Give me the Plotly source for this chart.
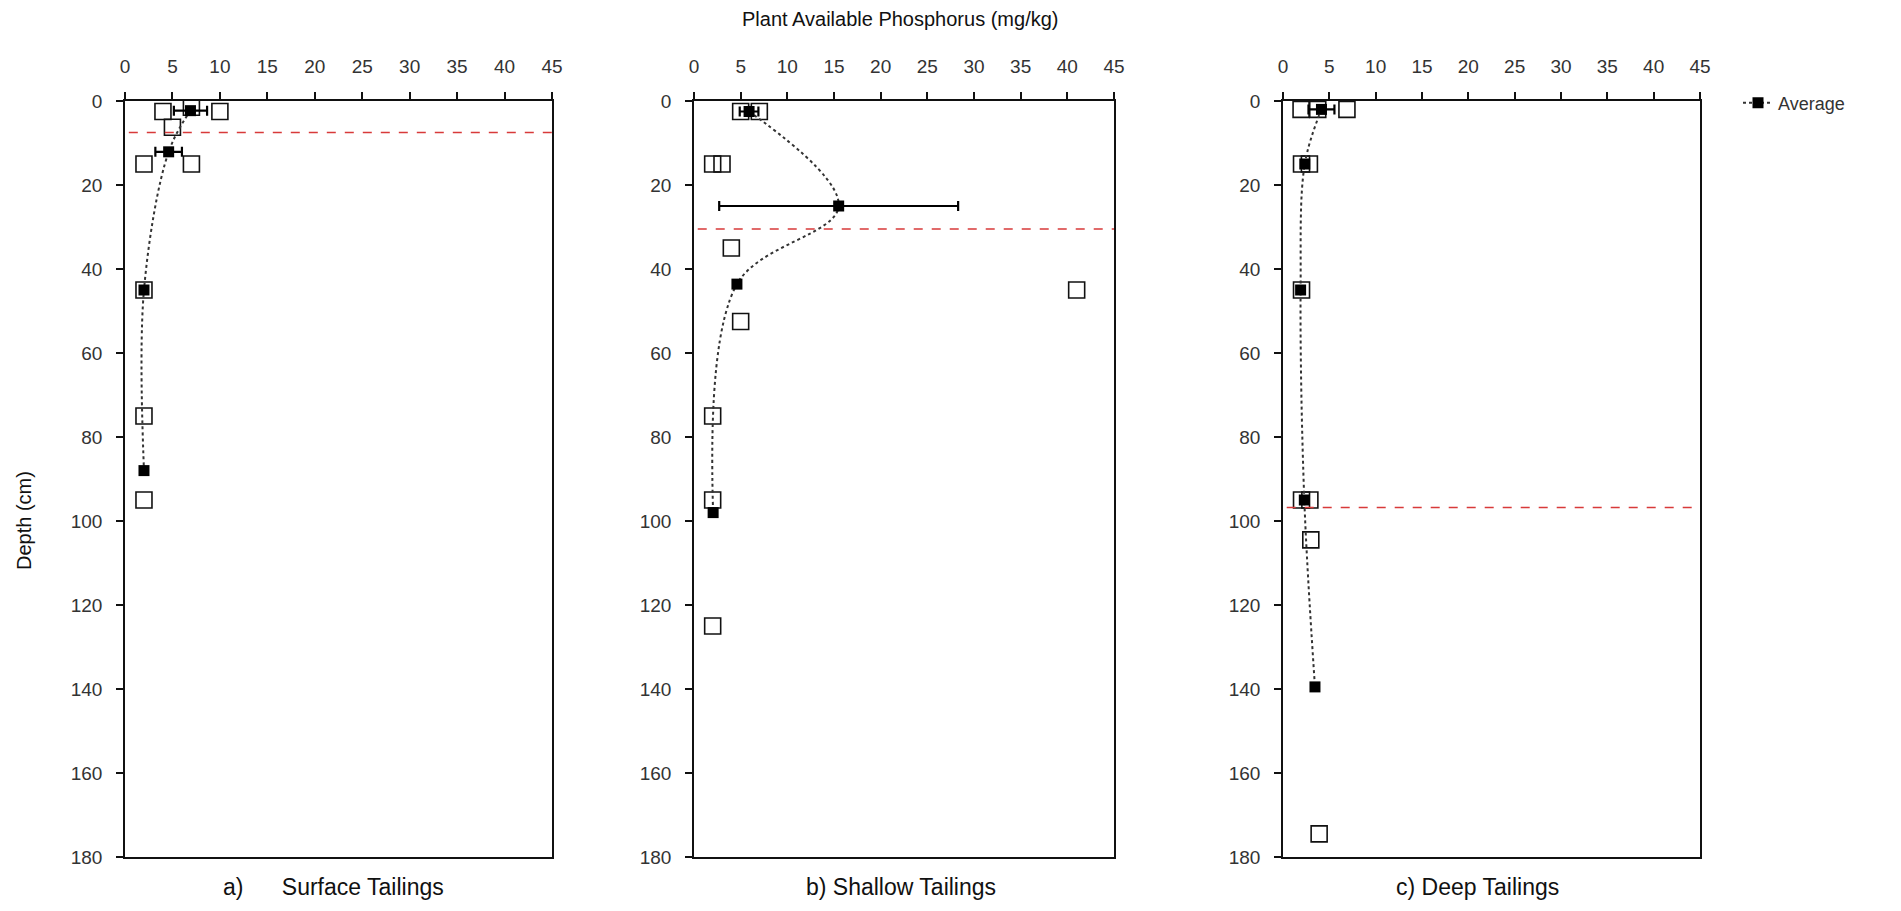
import plotly.graph_objects as go

# ---- data ----
panel_names = ["a)&nbsp;&nbsp;&nbsp;&nbsp;&nbsp;&nbsp;Surface Tailings", "b) Shallow Tailings", "c) Deep Tailings"]

a_sample_p = [4, 7, 10, 5, 2, 7, 2, 2, 2]
a_sample_d = [2.5, 1.5, 2.5, 6.25, 15, 15, 45, 75, 95]
a_avg_p = [6.9, 4.6, 2.0, 2.0]
a_avg_d = [2.3, 12.1, 45, 88]
a_avg_err = [1.75, 1.4, None, None]
a_line = 7.5

b_sample_p = [5, 7, 2, 3, 4, 41, 5, 2, 2, 2]
b_sample_d = [2.5, 2.5, 15, 15, 35, 45, 52.5, 75, 95, 125]
b_avg_p = [5.9, 15.5, 4.6, 2.05]
b_avg_d = [2.5, 25, 43.6, 98]
b_avg_err = [1.0, 12.8, None, None]
b_line = 30.5

c_sample_p = [1.95, 3.75, 6.9, 2.0, 2.85, 2.0, 2.0, 2.9, 3.0, 3.9]
c_sample_d = [2.0, 2.0, 2.0, 15, 15, 45, 95, 95, 104.5, 174.5]
c_avg_p = [4.15, 2.35, 1.9, 2.3, 3.45]
c_avg_d = [2.0, 15, 45, 95, 139.5]
c_avg_err = [1.4, None, None, None, None]
c_line = 96.8

x_ticks = [0, 5, 10, 15, 20, 25, 30, 35, 40, 45]
y_ticks = [0, 20, 40, 60, 80, 100, 120, 140, 160, 180]

# page is 1901x911; the html body adds an 8 px margin around the figure
OFF = 8
W, H = 1901 - 2 * OFF, 911 - 2 * OFF
FONT = "Liberation Sans, Arial, sans-serif"


def fx(px):
    return (px - OFF) / W


def fy(py):
    return 1 - (py - OFF) / H


panels = [
    (a_sample_p, a_sample_d, a_avg_p, a_avg_d, a_avg_err, a_line),
    (b_sample_p, b_sample_d, b_avg_p, b_avg_d, b_avg_err, b_line),
    (c_sample_p, c_sample_d, c_avg_p, c_avg_d, c_avg_err, c_line),
]
px_domains = [(125, 552), (694, 1114), (1283, 1700)]
top_px, bot_px = 101, 857
label_x_px = [333, 901, 1477]

fig = go.Figure()
for i, (sp, sd, ap, ad, ae, rl) in enumerate(panels):
    xa = "x" if i == 0 else f"x{i+1}"
    ya = "y" if i == 0 else f"y{i+1}"
    fig.add_trace(go.Scatter(
        x=sp, y=sd, mode="markers", xaxis=xa, yaxis=ya, showlegend=False,
        marker=dict(symbol="square-open", size=16, color="#111",
                    line=dict(width=1.6, color="#111")),
        hoverinfo="x+y"))
    fig.add_trace(go.Scatter(
        x=ap, y=ad, mode="lines+markers", xaxis=xa, yaxis=ya,
        name="Average", showlegend=(i == 0),
        line=dict(shape="spline", smoothing=1.0, dash="dot", width=2, color="#333"),
        marker=dict(symbol="square", size=11, color="#000"),
        error_x=dict(type="data", array=ae, visible=True, thickness=2.2,
                     width=5, color="#000")))
    fig.add_shape(type="line", xref=xa, yref=ya, x0=0.4, x1=45, y0=rl, y1=rl,
                  line=dict(color="#d83a3a", width=1.5, dash="dash"))

    d0, d1 = px_domains[i]
    axis_common = dict(showline=True, mirror=True, linecolor="#111", linewidth=1.5,
                       ticks="outside", ticklen=7, tickwidth=1.5, tickcolor="#111",
                       showgrid=False, zeroline=False, automargin=False,
                       tickfont=dict(family=FONT, size=19, color="#333"))
    fig.layout[("xaxis" if i == 0 else f"xaxis{i+1}")] = dict(
        axis_common, domain=[fx(d0), fx(d1)], range=[0, 45], tickvals=x_ticks,
        side="top", anchor=ya, ticklabelstandoff=12)
    fig.layout[("yaxis" if i == 0 else f"yaxis{i+1}")] = dict(
        axis_common, domain=[fy(bot_px), fy(top_px)], range=[180, 0],
        tickvals=y_ticks, anchor=xa, ticklabelstandoff=10)
    fig.add_annotation(text=panel_names[i], xref="paper", yref="paper",
                       x=fx(label_x_px[i]), y=fy(887), showarrow=False,
                       xanchor="center", yanchor="middle",
                       font=dict(family=FONT, size=23, color="#111"))

fig.add_annotation(text="Plant Available Phosphorus (mg/kg)", xref="paper", yref="paper",
                   x=fx(900), y=fy(19), showarrow=False, xanchor="center",
                   yanchor="middle", font=dict(family=FONT, size=20, color="#111"))
fig.add_annotation(text="Depth (cm)", xref="paper", yref="paper",
                   x=fx(24), y=fy(521), showarrow=False, textangle=-90,
                   xanchor="center", yanchor="middle",
                   font=dict(family=FONT, size=20, color="#111"))

fig.update_layout(
    width=W, height=H, margin=dict(l=0, r=0, t=0, b=0, autoexpand=False),
    paper_bgcolor="white", plot_bgcolor="white",
    font=dict(family=FONT, color="#111"),
    legend=dict(x=fx(1738), y=fy(103), xanchor="left", yanchor="middle",
                bgcolor="rgba(0,0,0,0)", font=dict(family=FONT, size=18, color="#333"),
                itemwidth=30),
)

fig.write_html("out.html")
